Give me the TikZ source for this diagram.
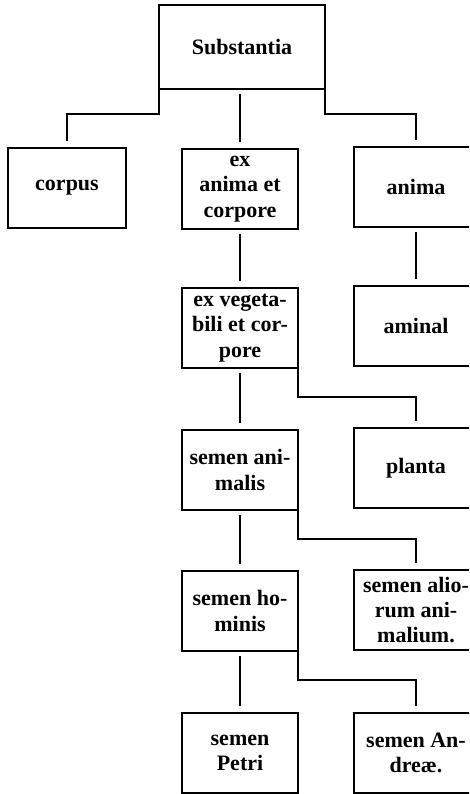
\documentclass[tikz,border=0pt]{standalone}
\usepackage{fontspec}
\setmainfont{Liberation Serif}
\usetikzlibrary{calc}
\usetikzlibrary{positioning}

\begin{document}
\begin{tikzpicture}[x=0.75pt,y=-0.75pt]
  \tikzstyle{mid box}=[draw,line width=1.3pt,outer sep=0pt,minimum width=87pt,minimum height=60pt,inner sep=1pt,align=center,font=\fontsize{16.5}{19}\selectfont\bfseries]
  \tikzstyle{side box}=[mid box,minimum width=93pt]
  \tikzset{
link/.style={line width=1.3pt,shorten >=5pt},
stem/.style={link,shorten <=4pt}
}
  \useasboundingbox (0,0) rectangle (469,794);
  \clip (0,0) rectangle (469,794);
  % top
  \node[mid box,minimum width=124pt,minimum height=63pt](sub) at (242,47){Substantia};
  % second row
  \node[mid box,minimum width=89pt](corpus) at (67,188){corpus};
  \node[mid box](exanima) at (240,189){ex\\anima et\\corpore};
  \node[side box](anima) at (416,187){anima};
  % left column
  \node[mid box](exveg) at (240,328){ex vegeta-\\bili et cor-\\pore};
  \node[mid box](animalis) at (240,470){semen ani-\\malis};
  \node[mid box](hominis) at (240,611){semen ho-\\minis};
  \node[mid box](petri) at (240,753){semen\\Petri};
  % right column
  \node[side box](aminal) at (416,326){aminal};
  \node[side box](planta) at (416,468){planta};
  \node[side box](aliorum) at (416,610){semen alio-\\rum ani-\\malium.};
  \node[side box](andreae) at (416,753){semen An-\\dreæ.};
  % links
  \draw[link] (sub.south west) -- ++(0,25) -| (corpus.north);
  \draw[link] (sub.south east) -- ++(0,25) -| (anima.north);
  \draw[stem] (exanima.north |- sub.south) -- (exanima.north);
  \draw[stem] (exanima.south) -- (exveg.north);
  \draw[stem] (anima.south) -- (aminal.north);
  \draw[stem] (exveg.south) -- (animalis.north);
  \draw[stem] (animalis.south) -- (hominis.north);
  \draw[stem] (hominis.south) -- (petri.north);
  \draw[link] (exveg.south east) -- ++(0,29) -| (planta.north);
  \draw[link] (animalis.south east) -- ++(0,29) -| (aliorum.north);
  \draw[link] (hominis.south east) -- ++(0,29) -| (andreae.north);
\end{tikzpicture}
\end{document}
